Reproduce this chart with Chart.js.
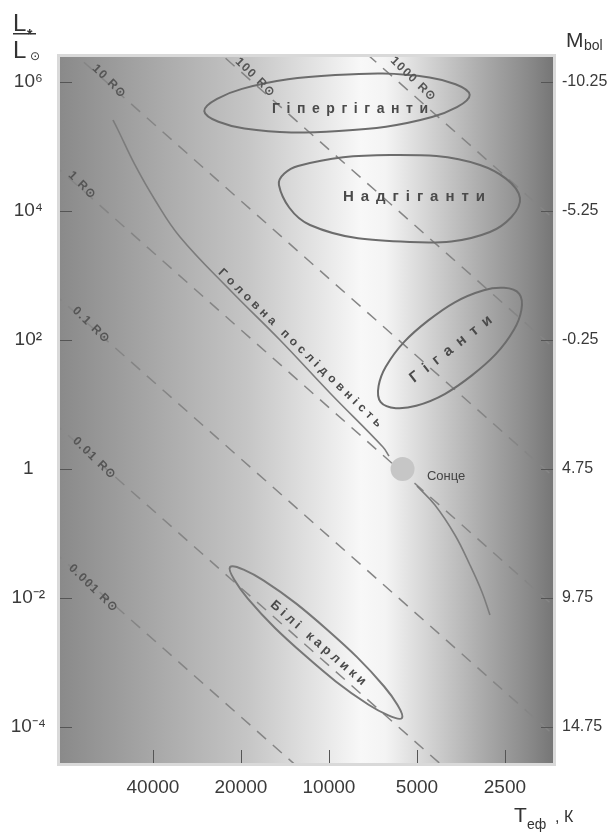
<!DOCTYPE html>
<html>
<head>
<meta charset="utf-8">
<script src="https://cdn.jsdelivr.net/npm/chart.js@4.4.1/dist/chart.umd.min.js"></script>
<style>
html,body{margin:0;padding:0;background:#fff;}
#wrap{width:614px;height:833px;position:relative;}
</style>
</head>
<body>
<div id="wrap"><canvas id="c"></canvas></div>
<script>
// ---------- axis ranges and ticks ----------
const T_MIN = 1712, T_MAX = 83200;          // effective temperature, K (axis reversed)
const L_MIN = 2.77e-5, L_MAX = 2.44e6;      // luminosity, L/Lsun
const tempTicks = [40000, 20000, 10000, 5000, 2500];
const lumTicks = [1e-4, 1e-2, 1, 1e2, 1e4, 1e6];
const lumTickLabels = ['10⁻⁴', '10⁻²', '1', '10²', '10⁴', '10⁶'];
const mbolTicks = [-10.25, -5.25, -0.25, 4.75, 9.75, 14.75];

// ---------- lines of constant radius (end points) ----------
const radiusNames = ['1000 R⊙', '100 R⊙', '10 R⊙', '1 R⊙', '0.1 R⊙', '0.01 R⊙', '0.001 R⊙'];
const radiusLineT = [100000, 1500];
const radiusLineL = [
  [8.971e10, 4542],
  [8.971e8, 45.42],
  [8.971e6, 0.4542],
  [8.971e4, 4.542e-3],
  [897.1, 4.542e-5],
  [8.971, 4.542e-7],
  [0.08971, 4.542e-9]
];
const radiusLabelT = [5158, 17910, 56560, 69970, 65190, 63660, 64160];
const radiusLabelL = [1.113e6, 1.196e6, 1.036e6, 2.529e4, 170.8, 1.481, 0.01429];

// ---------- main sequence ----------
const msUpperT = [54810, 52680, 46090, 39370, 32320, 21810, 14710, 9920, 6536, 6232];
const msUpperL = [2.576e5, 1.803e5, 5.168e4, 1.481e4, 3953, 596, 100, 15.08, 2.193, 1.59];
const msLowerT = [5000, 4339, 3706, 3293, 2996, 2813];
const msLowerL = [0.545, 0.2764, 0.09478, 0.03248, 0.01239, 0.005453];

// ---------- region outlines [T, L] ----------
const hypergiantsOutline = [[3300, 6.31e5], [4440, 2.86e5], [9260, 1.745e5], [19470, 1.90e5], [26700, 3.54e5], [19840, 7.82e5], [9510, 1.28e6], [4525, 1.175e6]];
const supergiantsOutline = [[2221, 1.59e4], [2813, 4724], [5283, 3307], [11610, 6066], [14830, 2.53e4], [12760, 4.985e4], [6183, 7.38e4], [3043, 5.17e4]];
const giantsOutline = [[2233, 520], [2324, 147], [3251, 28.05], [5030, 9.546], [6653, 10.86], [6392, 38.42], [4570, 201.3], [2953, 591.7]];
const whiteDwarfsOutline = [[5629, 1.378e-4], [7317, 2.216e-4], [12090, 1.293e-3], [18980, 9.89e-3], [21790, 3.024e-2], [16760, 1.881e-2], [10140, 3.226e-3], [6463, 4.214e-4]];

// ---------- the Sun ----------
const sunT = 5600, sunL = 1;

// ---------- region names and their anchor points ----------
const regionNames = ['Гіпергіганти', 'Надгіганти', 'Гіганти', 'Білі карлики', 'Головна послідовність'];
const regionLabelT = [8472, 5118, 3825, 10900, 12570];
const regionLabelL = [3.814e5, 1.648e4, 72.52, 2.005e-3, 75.1];
const sunName = 'Сонце';
const sunLabelT = 4620, sunLabelL = 0.7786;

// ---------- styles ----------
const FONT = "'Liberation Sans', Arial, sans-serif";
const regionStyles = [
  {angle: 0, font: 'bold 14px ' + FONT, len: 156},
  {angle: 0, font: 'bold 15px ' + FONT, len: 142},
  {angle: -38, font: 'bold 15px ' + FONT, len: 100},
  {angle: 41, font: 'bold 13px ' + FONT, len: 122},
  {angle: 44, font: 'bold 12px ' + FONT, len: 222}
];

function pairs(ts, ls) { return ts.map((t, i) => ({x: t, y: ls[i]})); }
function loopData(pts) {
  const n = pts.length;
  return [pts[n - 1], ...pts, pts[0], pts[1]].map(p => ({x: p[0], y: p[1]}));
}
function outlineDataset(pts, color) {
  const n = pts.length;
  return {
    data: loopData(pts), showLine: true, borderColor: color, borderWidth: 2,
    tension: 0.38, pointRadius: 0, pointHoverRadius: 0,
    segment: {borderColor: c => (c.p0DataIndex === 0 || c.p0DataIndex === n + 1) ? 'rgba(0,0,0,0)' : color}
  };
}

const datasets = [];
datasets.push({data: [{x: sunT, y: sunL}], pointRadius: 12, pointHoverRadius: 12, backgroundColor: '#c6c6c6', borderWidth: 0, showLine: false});
datasets.push(outlineDataset(hypergiantsOutline, '#6c6c6c'));
datasets.push(outlineDataset(supergiantsOutline, '#6c6c6c'));
datasets.push(outlineDataset(giantsOutline, '#6c6c6c'));
datasets.push(outlineDataset(whiteDwarfsOutline, '#777777'));
datasets.push({data: pairs(msUpperT, msUpperL), showLine: true, borderColor: '#7c7c7c', borderWidth: 1.6, tension: 0.4, pointRadius: 0});
datasets.push({data: pairs(msLowerT, msLowerL), showLine: true, borderColor: '#7c7c7c', borderWidth: 1.6, tension: 0.4, pointRadius: 0});
radiusLineL.forEach(ls => {
  datasets.push({data: pairs(radiusLineT, ls), showLine: true, borderColor: '#858585', borderWidth: 1.5, borderDash: [12, 9], pointRadius: 0, tension: 0});
});

function spacedText(ctx, text, cx, cy, angleDeg, font, color, spacing, targetLen) {
  ctx.save();
  ctx.font = font; ctx.fillStyle = color;
  ctx.textBaseline = 'middle'; ctx.textAlign = 'left';
  const chars = [...text];
  const widths = chars.map(ch => ctx.measureText(ch).width);
  const natural = widths.reduce((a, b) => a + b, 0);
  let sp = spacing;
  if (targetLen) sp = (targetLen - natural) / (chars.length - 1);
  const total = natural + sp * (chars.length - 1);
  ctx.translate(cx, cy);
  ctx.rotate(angleDeg * Math.PI / 180);
  let xx = -total / 2;
  chars.forEach((ch, i) => { ctx.fillText(ch, xx, 0); xx += widths[i] + sp; });
  ctx.restore();
}

const decor = {
  id: 'decor',
  beforeDatasetsDraw(chart) {
    const {ctx, chartArea: a} = chart;
    ctx.save();
    const g = ctx.createLinearGradient(a.left, 0, a.right, 0);
    g.addColorStop(0.00, '#8a8a8a');
    g.addColorStop(0.18, '#a6a6a6');
    g.addColorStop(0.38, '#c5c5c5');
    g.addColorStop(0.53, '#e6e6e6');
    g.addColorStop(0.61, '#f8f8f8');
    g.addColorStop(0.66, '#f4f4f4');
    g.addColorStop(0.75, '#d2d2d2');
    g.addColorStop(0.85, '#adadad');
    g.addColorStop(0.95, '#8a8a8a');
    g.addColorStop(1.00, '#767676');
    ctx.fillStyle = g;
    ctx.fillRect(a.left, a.top, a.right - a.left, a.bottom - a.top);
    ctx.strokeStyle = '#d9d9d9'; ctx.lineWidth = 3;
    ctx.strokeRect(a.left - 1.5, a.top - 1.5, a.right - a.left + 3, a.bottom - a.top + 3);
    ctx.restore();
  },
  afterDatasetsDraw(chart) {
    const {ctx, chartArea: a, scales} = chart;
    const sx = scales.x, sy = scales.y, sm = scales.y2;
    ctx.save();
    ctx.strokeStyle = '#555'; ctx.lineWidth = 1;
    ctx.beginPath();
    tempTicks.forEach(t => { const p = Math.round(sx.getPixelForValue(t)) + 0.5; ctx.moveTo(p, a.bottom - 13); ctx.lineTo(p, a.bottom); });
    lumTicks.forEach(l => { const p = Math.round(sy.getPixelForValue(l)) + 0.5; ctx.moveTo(a.left, p); ctx.lineTo(a.left + 12, p); });
    mbolTicks.forEach(m => { const p = Math.round(sm.getPixelForValue(m)) + 0.5; ctx.moveTo(a.right - 12, p); ctx.lineTo(a.right, p); });
    ctx.stroke();
    ctx.restore();

    // radius labels
    radiusNames.forEach((name, i) => {
      spacedText(ctx, name, sx.getPixelForValue(radiusLabelT[i]), sy.getPixelForValue(radiusLabelL[i]), 44, 'bold 12px ' + FONT, '#555', 1.5);
    });
    // region labels
    regionNames.forEach((name, i) => {
      const s = regionStyles[i];
      spacedText(ctx, name, sx.getPixelForValue(regionLabelT[i]), sy.getPixelForValue(regionLabelL[i]), s.angle, s.font, '#4a4a4a', 0, s.len);
    });
    // Sun label
    ctx.save();
    ctx.font = '13px ' + FONT; ctx.fillStyle = '#444'; ctx.textBaseline = 'middle'; ctx.textAlign = 'left';
    ctx.fillText(sunName, sx.getPixelForValue(sunLabelT), sy.getPixelForValue(sunLabelL));
    ctx.restore();
  },
  afterDraw(chart) {
    const ctx = chart.ctx;
    ctx.save();
    ctx.fillStyle = '#333'; ctx.textBaseline = 'alphabetic'; ctx.textAlign = 'left';
    // L*/Lsun
    ctx.font = '24px ' + FONT; ctx.fillText('L', 13, 31);
    ctx.font = 'bold 14px ' + FONT; ctx.fillText('*', 27, 39);
    ctx.fillRect(13, 33, 23, 1.5);
    ctx.font = '24px ' + FONT; ctx.fillText('L', 13, 58);
    ctx.font = "12px 'DejaVu Sans', sans-serif"; ctx.textBaseline = 'middle'; ctx.textAlign = 'center';
    ctx.fillText('⊙', 35, 57);
    ctx.textBaseline = 'alphabetic'; ctx.textAlign = 'left';
    // Mbol
    ctx.font = '21px ' + FONT; ctx.fillText('M', 566, 47);
    ctx.font = '14px ' + FONT; ctx.fillText('bol', 584, 50);
    // Teff, K
    ctx.font = '21px ' + FONT; ctx.fillText('T', 514, 822);
    ctx.font = '14px ' + FONT; ctx.fillText('еф', 527, 829);
    ctx.font = '16px ' + FONT; ctx.fillText(', К', 555, 822);
    ctx.restore();
  }
};

Chart.defaults.font.family = FONT;
Chart.defaults.color = '#3a3a3a';

new Chart(document.getElementById('c'), {
  type: 'scatter',
  data: {datasets},
  options: {
    responsive: true, maintainAspectRatio: false, animation: false,
    layout: {padding: {top: 57, left: 0, right: 0, bottom: 0}},
    plugins: {legend: {display: false}, tooltip: {enabled: false}},
    events: [],
    scales: {
      x: {
        type: 'logarithmic', reverse: true, min: T_MIN, max: T_MAX, position: 'bottom',
        grid: {display: false, drawTicks: false}, border: {display: false},
        afterBuildTicks: s => { s.ticks = tempTicks.map(v => ({value: v})); },
        afterFit: s => { s.height = 70; },
        ticks: {font: {size: 19}, padding: 13, maxRotation: 0, autoSkip: false, callback: v => String(v)}
      },
      y: {
        type: 'logarithmic', min: L_MIN, max: L_MAX, position: 'left',
        grid: {display: false, drawTicks: false}, border: {display: false},
        afterBuildTicks: s => { s.ticks = lumTicks.map(v => ({value: v})); },
        afterFit: s => { s.width = 60; },
        ticks: {font: {size: 19}, padding: 14, crossAlign: 'center', autoSkip: false,
          callback: v => { const i = lumTicks.findIndex(t => Math.abs(Math.log10(t) - Math.log10(v)) < 1e-6); return i >= 0 ? lumTickLabels[i] : ''; }}
      },
      y2: {
        type: 'linear', reverse: true, position: 'right',
        min: 4.75 - 2.5 * Math.log10(L_MAX), max: 4.75 - 2.5 * Math.log10(L_MIN),
        grid: {display: false, drawTicks: false}, border: {display: false},
        afterBuildTicks: s => { s.ticks = mbolTicks.map(v => ({value: v})); },
        afterFit: s => { s.width = 61; },
        ticks: {font: {size: 16}, padding: 9, autoSkip: false, callback: v => v.toFixed(2)}
      }
    }
  },
  plugins: [decor]
});
</script>
</body>
</html>
